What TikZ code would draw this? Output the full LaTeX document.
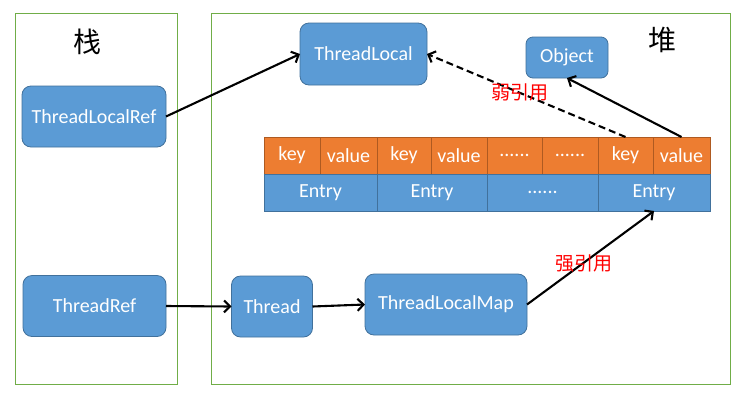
\documentclass[tikz,border=0pt]{standalone}
\usepackage{fontspec}
\setmainfont{Carlito}
\newfontfamily\cjk{Noto Sans CJK SC}
\usetikzlibrary{arrows.meta}
\definecolor{nodeblue}{HTML}{5B9BD5}
\definecolor{nodeedge}{HTML}{41719C}
\definecolor{cellorange}{HTML}{ED7D31}
\definecolor{orangeedge}{HTML}{AE5A21}
\definecolor{regiongreen}{HTML}{70AD47}
\begin{document}
\begin{tikzpicture}[x=1pt,y=-1pt,
  box/.style={draw=nodeedge, fill=nodeblue, rounded corners=9pt, text=white,
    font=\fontsize{20}{24}\selectfont, line width=0.8pt, inner sep=0pt, outer sep=0pt},
  ocell/.style={draw=orangeedge, fill=cellorange, text=white,
    font=\fontsize{20}{24}\selectfont, line width=0.8pt, inner sep=0pt, outer sep=0pt, minimum height=37pt},
  bcell/.style={draw=nodeedge, fill=nodeblue, text=white,
    font=\fontsize{20}{24}\selectfont, line width=0.8pt, inner sep=0pt, outer sep=0pt, minimum height=37pt},
  region/.style={draw=regiongreen, line width=0.9pt},
  arr/.style={line width=2.1pt, -{Straight Barb[length=6pt,width=12pt]}},
  reflabel/.style={text=red, font=\cjk\fontsize{19}{22}\selectfont},
  title/.style={font=\cjk\fontsize{28}{30}\selectfont}]
\useasboundingbox (0,0) rectangle (754,400);
\fill[white] (0,0) rectangle (754,400);
% regions
\draw[region] (15,13) rectangle (177,384);
\draw[region] (211,13) rectangle (730,384);
\node[title] (zhan) at (87,42) {栈};
\node[title] (dui) at (662,40) {堆};
% nodes
\node[box, minimum width=144pt, minimum height=61pt] (tlr) at (94,116.5) {ThreadLocalRef};
\node[box, minimum width=127pt, minimum height=62pt] (tl) at (363.5,54) {ThreadLocal};
\node[box, minimum width=82pt, minimum height=41pt, rounded corners=7pt] (obj) at (567,57.5) {Object};
\node[box, minimum width=143pt, minimum height=61pt] (tr) at (94.5,306) {ThreadRef};
\node[box, minimum width=81pt, minimum height=61pt] (th) at (272,306.5) {Thread};
\node[box, minimum width=162pt, minimum height=61pt] (tlm) at (446,304.5) {ThreadLocalMap};
% table row of key/value cells
\node[ocell, minimum width=56pt] (k1) at (292,155.5) {key};
\node[ocell, minimum width=57pt] (v1) at (348.5,155.5) {value};
\node[ocell, minimum width=54pt] (k2) at (404,155.5) {key};
\node[ocell, minimum width=56pt] (v2) at (459,155.5) {value};
\node[ocell, minimum width=55pt] (d1) at (514.5,155.5) {......};
\node[ocell, minimum width=56pt] (d2) at (570,155.5) {......};
\node[ocell, minimum width=55pt] (k4) at (625.5,155.5) {key};
\node[ocell, minimum width=57pt] (v4) at (681.5,155.5) {value};
% entry row
\node[bcell, minimum width=113pt] (e1) at (320.5,192.5) {Entry};
\node[bcell, minimum width=110pt] (e2) at (432,192.5) {Entry};
\node[bcell, minimum width=111pt] (e3) at (542.5,192.5) {......};
\node[bcell, minimum width=112pt] (e4) at (654,192.5) {Entry};
% connectors
\draw[arr] (tlr.east) -- (tl.west);
\draw[arr, dashed, dash pattern=on 7pt off 4pt] (k4.north) -- (tl.east);
\draw[arr] (v4.north) -- (obj.south);
\draw[arr] (tr.east) -- (th.west);
\draw[arr] (th.east) -- (tlm.west);
\draw[arr] (tlm.east) -- (e4.south);
% labels
\node[reflabel] (weak) at (520,92) {弱引用};
\node[reflabel] (strong) at (584,263) {强引用};
\end{tikzpicture}
\end{document}
